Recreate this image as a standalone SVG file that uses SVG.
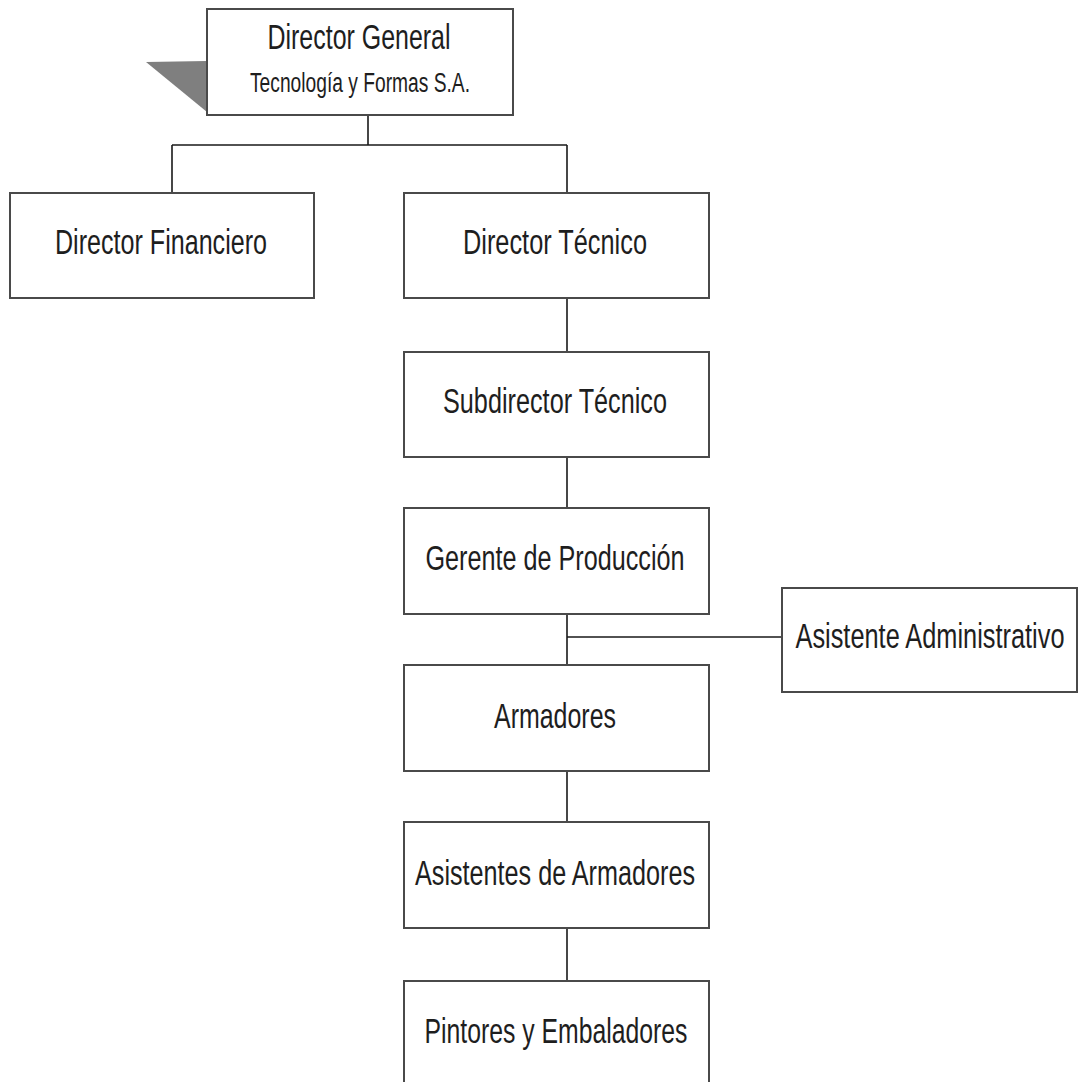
<svg xmlns="http://www.w3.org/2000/svg" width="1078" height="1082" viewBox="0 0 1078 1082">
<style>
.box{fill:#fff;stroke:#4a4a4a;stroke-width:2}
.t{font-family:"Liberation Sans",Arial,sans-serif;font-size:35px;fill:#1e1e1e;text-anchor:middle}
.s{font-family:"Liberation Sans",Arial,sans-serif;font-size:27px;fill:#1e1e1e;text-anchor:middle}
.c{stroke:#1a1a1a;stroke-width:1.6;fill:none}
</style>
<rect width="1078" height="1082" fill="#fff"/>
<g id="connectors">
<path class="c" d="M368,115V145M172,145H567M172,145V193M567,145V193"/>
<path class="c" d="M567,298V352M567,457V508M567,614V665M567,637H782M567,771V822M567,928V981"/>
</g>
<g id="director-general">
<polygon points="146,62 207,61 207,112" fill="#7f7f7f"/>
<rect class="box" x="207" y="9" width="306" height="106"/>
<text class="t" x="359" y="49" textLength="183" lengthAdjust="spacingAndGlyphs">Director General</text>
<text class="s" x="360" y="92" textLength="220" lengthAdjust="spacingAndGlyphs">Tecnología y Formas S.A.</text>
</g>
<g id="director-financiero">
<rect class="box" x="10" y="193" width="304" height="105"/>
<text class="t" x="161" y="254" textLength="212" lengthAdjust="spacingAndGlyphs">Director Financiero</text>
</g>
<g id="director-tecnico">
<rect class="box" x="404" y="193" width="305" height="105"/>
<text class="t" x="555" y="254" textLength="184" lengthAdjust="spacingAndGlyphs">Director Técnico</text>
</g>
<g id="subdirector-tecnico">
<rect class="box" x="404" y="352" width="305" height="105"/>
<text class="t" x="555" y="413" textLength="224" lengthAdjust="spacingAndGlyphs">Subdirector Técnico</text>
</g>
<g id="gerente-produccion">
<rect class="box" x="404" y="508" width="305" height="106"/>
<text class="t" x="555" y="570" textLength="259" lengthAdjust="spacingAndGlyphs">Gerente de Producción</text>
</g>
<g id="asistente-administrativo">
<rect class="box" x="782" y="588" width="295" height="104"/>
<text class="t" transform="translate(930,648) scale(1,1.42)" x="0" y="0" style="font-size:24.6px" textLength="269" lengthAdjust="spacingAndGlyphs">Asistente Administrativo</text>
</g>
<g id="armadores">
<rect class="box" x="404" y="665" width="305" height="106"/>
<text class="t" x="555" y="728" textLength="122" lengthAdjust="spacingAndGlyphs">Armadores</text>
</g>
<g id="asistentes-armadores">
<rect class="box" x="404" y="822" width="305" height="106"/>
<text class="t" x="555" y="885" textLength="280" lengthAdjust="spacingAndGlyphs">Asistentes de Armadores</text>
</g>
<g id="pintores-embaladores">
<rect class="box" x="404" y="981" width="305" height="110"/>
<text class="t" x="556" y="1043" textLength="263" lengthAdjust="spacingAndGlyphs">Pintores y Embaladores</text>
</g>
</svg>
